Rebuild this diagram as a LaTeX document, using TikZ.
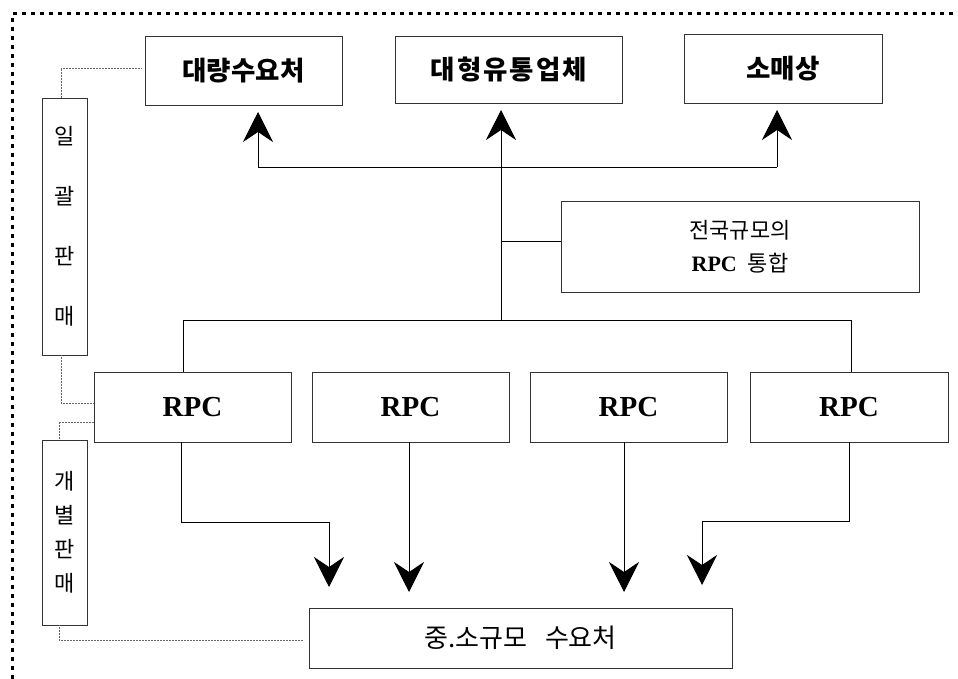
\documentclass[tikz,border=0pt]{standalone}
\usepackage{fontspec}
\setmainfont{Liberation Serif}
\newfontfamily\kr{Noto Sans CJK KR}
\usetikzlibrary{arrows.meta,calc}
\begin{document}
\begin{tikzpicture}[x=1pt,y=-1pt,
  box/.style={draw=black!80,line width=0.9pt,inner sep=0pt,align=center},
  arr/.style={line width=0.9pt,-{Stealth[length=30pt,width=30pt,inset=10pt]}},
  conn/.style={line width=0.9pt},
  dotl/.style={draw=black!60,line width=0.5pt,densely dotted},
  border/.style={line width=3pt,dash pattern=on 4pt off 5pt},
  topt/.style={font=\kr\bfseries\fontsize{26.5}{30}\selectfont},
  rpct/.style={font=\bfseries\fontsize{29}{32}\selectfont}]
\useasboundingbox (0,0) rectangle (958,679);
\draw[border] (12,679) -- (12,14) -- (958,14);

% top boxes
\node[box,topt,minimum width=197pt,minimum height=69pt] (b1) at (243.5,70.5) {대량수요처};
\node[box,topt,minimum width=227pt,minimum height=67pt] (b2) at (509,69.5)
  {대\hspace{2pt}형\hspace{2pt}유\hspace{2pt}통\hspace{2pt}업\hspace{2pt}체};
\node[box,topt,minimum width=198pt,minimum height=69pt] (b3) at (783,68.5) {소매상};

\node[box,minimum width=358pt,minimum height=91pt,font=\kr\fontsize{22}{33}\selectfont] (nat) at (740,246.5)
  {전국규모의\\{\rmfamily\bfseries RPC}\hspace{0.5em}통합};

% side boxes
\node[box,minimum width=45pt,minimum height=257pt,font=\kr\fontsize{22}{60}\selectfont] (ig) at (64.5,226.5)
  {일\\괄\\판\\매};
\node[box,minimum width=45pt,minimum height=185pt,font=\kr\fontsize{22}{34}\selectfont] (gb) at (64.5,532.5)
  {개\\별\\판\\매};

% RPC boxes
\node[box,rpct,minimum width=197pt,minimum height=70pt] (r1) at (192.5,407) {RPC};
\node[box,rpct,minimum width=197pt,minimum height=70pt] (r2) at (410.5,407) {RPC};
\node[box,rpct,minimum width=197pt,minimum height=70pt] (r3) at (628.5,407) {RPC};
\node[box,rpct,minimum width=198pt,minimum height=70pt] (r4) at (849,407) {RPC};

\node[box,minimum width=423pt,minimum height=60pt,font=\kr\fontsize{26}{28}\selectfont] (sm) at (520.5,638)
  {중.소규모\hspace{18pt}수요처};

% coordinates
\coordinate (hL) at (258,167);
\coordinate (hR) at (777,167);
\coordinate (a1) at (258,112);
\coordinate (a2) at (501,110);
\coordinate (a3) at (777,110);
\coordinate (tb) at (501,320);
\coordinate (j) at (501,241);
\coordinate (bl) at (183,320);
\coordinate (br) at (851,320);
\coordinate (d1) at (181,522);
\coordinate (e1) at (329,587);
\coordinate (e2) at (409,592);
\coordinate (e3) at (624,592);
\coordinate (d4) at (849,521);
\coordinate (e4) at (702,585);
\coordinate (p1) at (61,68);
\coordinate (p2) at (61,403);
\coordinate (p3) at (59,422);
\coordinate (p4) at (59,640);

% upper connectors
\draw[conn] (hL) -- (hR);
\draw[arr] (hL) -- (a1);
\draw[arr] (hR) -- (a3);
\draw[arr] (tb) -- (a2);
\draw[conn] (j) -- (j -| nat.west);
\draw[conn] (r1.north -| bl) -- (bl) -- (br) -- (r4.north -| br);

% lower connectors
\draw[arr] (r1.south -| d1) -- (d1) -| (e1);
\draw[arr] (r2.south -| e2) -- (e2);
\draw[arr] (r3.south -| e3) -- (e3);
\draw[arr] (r4.south -| d4) -- (d4) -| (e4);

% dotted links
\draw[dotl] (ig.north -| p1) -- (p1) -- ($(b1.west |- p1)+(-3,0)$);
\draw[dotl] (ig.south -| p2) -- (p2) -- (p2 -| r1.west);
\draw[dotl] (r1.west |- p3) -- (p3) -- (p3 |- gb.north);
\draw[dotl] (gb.south -| p4) -- (p4) -- ($(p4 -| sm.west)+(-6,0)$);
\end{tikzpicture}
\end{document}
